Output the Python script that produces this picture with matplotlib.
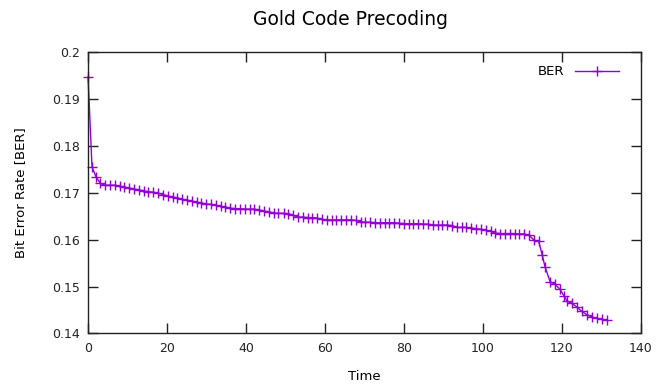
import matplotlib
matplotlib.use("Agg")
import matplotlib.pyplot as plt
from matplotlib.ticker import FormatStrFormatter

# ---------------------------------------------------------------------------
# Data
# ---------------------------------------------------------------------------

time = [
    0.0, 1.0, 2.0, 3.1, 4.3, 5.5, 6.8, 8.0, 9.2, 10.4,
    11.6, 12.9, 14.1, 15.3, 16.5, 17.7, 19.0, 20.2, 21.4, 22.6,
    23.8, 25.1, 26.3, 27.5, 28.7, 29.9, 31.2, 32.4, 33.6, 34.8,
    36.0, 37.3, 38.5, 39.7, 40.9, 42.1, 43.4, 44.6, 45.8, 47.0,
    48.2, 49.5, 50.7, 51.9, 53.1, 54.3, 55.6, 56.8, 58.0, 59.2,
    60.4, 61.7, 62.9, 64.1, 65.3, 66.5, 67.8, 69.0, 70.2, 71.4,
    72.6, 73.9, 75.1, 76.3, 77.5, 78.7, 80.0, 81.2, 82.4, 83.6,
    84.8, 86.1, 87.3, 88.5, 89.7, 90.9, 92.2, 93.4, 94.6, 95.8,
    97.0, 98.3, 99.5, 100.7, 101.9, 103.1, 104.4, 105.6, 106.8, 108.0,
    109.2, 110.5, 111.7, 112.9, 114.1, 115.0, 115.7, 117.0, 118.2, 119.5,
    120.5, 121.3, 122.5, 123.8, 125.0, 126.3, 127.6, 128.8, 130.1, 131.4,
]

ber = [
    0.1947, 0.1755, 0.1734, 0.1720, 0.1716, 0.1716, 0.1716, 0.1714, 0.1712, 0.1710,
    0.1708, 0.1706, 0.1704, 0.1702, 0.1701, 0.1699, 0.1696, 0.1693, 0.1691, 0.1689,
    0.1686, 0.1684, 0.1682, 0.1680, 0.1678, 0.1676, 0.1675, 0.1673, 0.1671, 0.1669,
    0.1667, 0.1666, 0.1666, 0.1665, 0.1665, 0.1665, 0.1663, 0.1661, 0.1659, 0.1657,
    0.1656, 0.1656, 0.1655, 0.1652, 0.1648, 0.1648, 0.1647, 0.1647, 0.1646, 0.1643,
    0.1642, 0.1642, 0.1642, 0.1642, 0.1642, 0.1642, 0.1641, 0.1638, 0.1637, 0.1637,
    0.1636, 0.1636, 0.1636, 0.1636, 0.1636, 0.1635, 0.1634, 0.1634, 0.1634, 0.1634,
    0.1633, 0.1633, 0.1631, 0.1631, 0.1631, 0.1631, 0.1630, 0.1626, 0.1626, 0.1626,
    0.1625, 0.1623, 0.1622, 0.1620, 0.1618, 0.1614, 0.1613, 0.1613, 0.1613, 0.1613,
    0.1612, 0.1612, 0.1609, 0.1599, 0.1596, 0.1567, 0.1542, 0.1510, 0.1505, 0.1494,
    0.1480, 0.1469, 0.1464, 0.1456, 0.1447, 0.1440, 0.1435, 0.1432, 0.1430, 0.1428,
]

x_ticks = [0, 20, 40, 60, 80, 100, 120, 140]
y_ticks = [0.14, 0.15, 0.16, 0.17, 0.18, 0.19, 0.2]

# ---------------------------------------------------------------------------
# Plot (gnuplot-like look)
# ---------------------------------------------------------------------------

fig = plt.figure(figsize=(6.67, 3.85), dpi=100)
ax = fig.add_axes([0.132, 0.134, 0.829, 0.731])

ax.plot(time, ber, color="#9400D3", linewidth=1.0, marker="+",
        markersize=7, markeredgewidth=1.0, label="BER", clip_on=False)

ax.set_xlim(0, 140)
ax.set_ylim(0.14, 0.2)
ax.set_xticks(x_ticks)
ax.set_yticks(y_ticks)
ax.yaxis.set_major_formatter(FormatStrFormatter("%g"))
ax.tick_params(direction="in", length=7, width=1, top=True, right=True,
               labelsize=9, colors="#222222", pad=6)
for spine in ax.spines.values():
    spine.set_color("#222222")
    spine.set_linewidth(1.0)

ax.set_xlabel("Time", fontsize=9.5, labelpad=11)
ax.set_ylabel("Bit Error Rate [BER]", fontsize=9.5, labelpad=18)
fig.suptitle("Gold Code Precoding", fontsize=13.5, x=0.525, y=0.975)

ax.legend(loc="upper right", bbox_to_anchor=(0.985, 1.0), frameon=False,
          markerfirst=False, fontsize=9.5, handlelength=3.4,
          handletextpad=0.8, borderaxespad=0.6)

fig.savefig("out.png", dpi=100)
plt.close(fig)
